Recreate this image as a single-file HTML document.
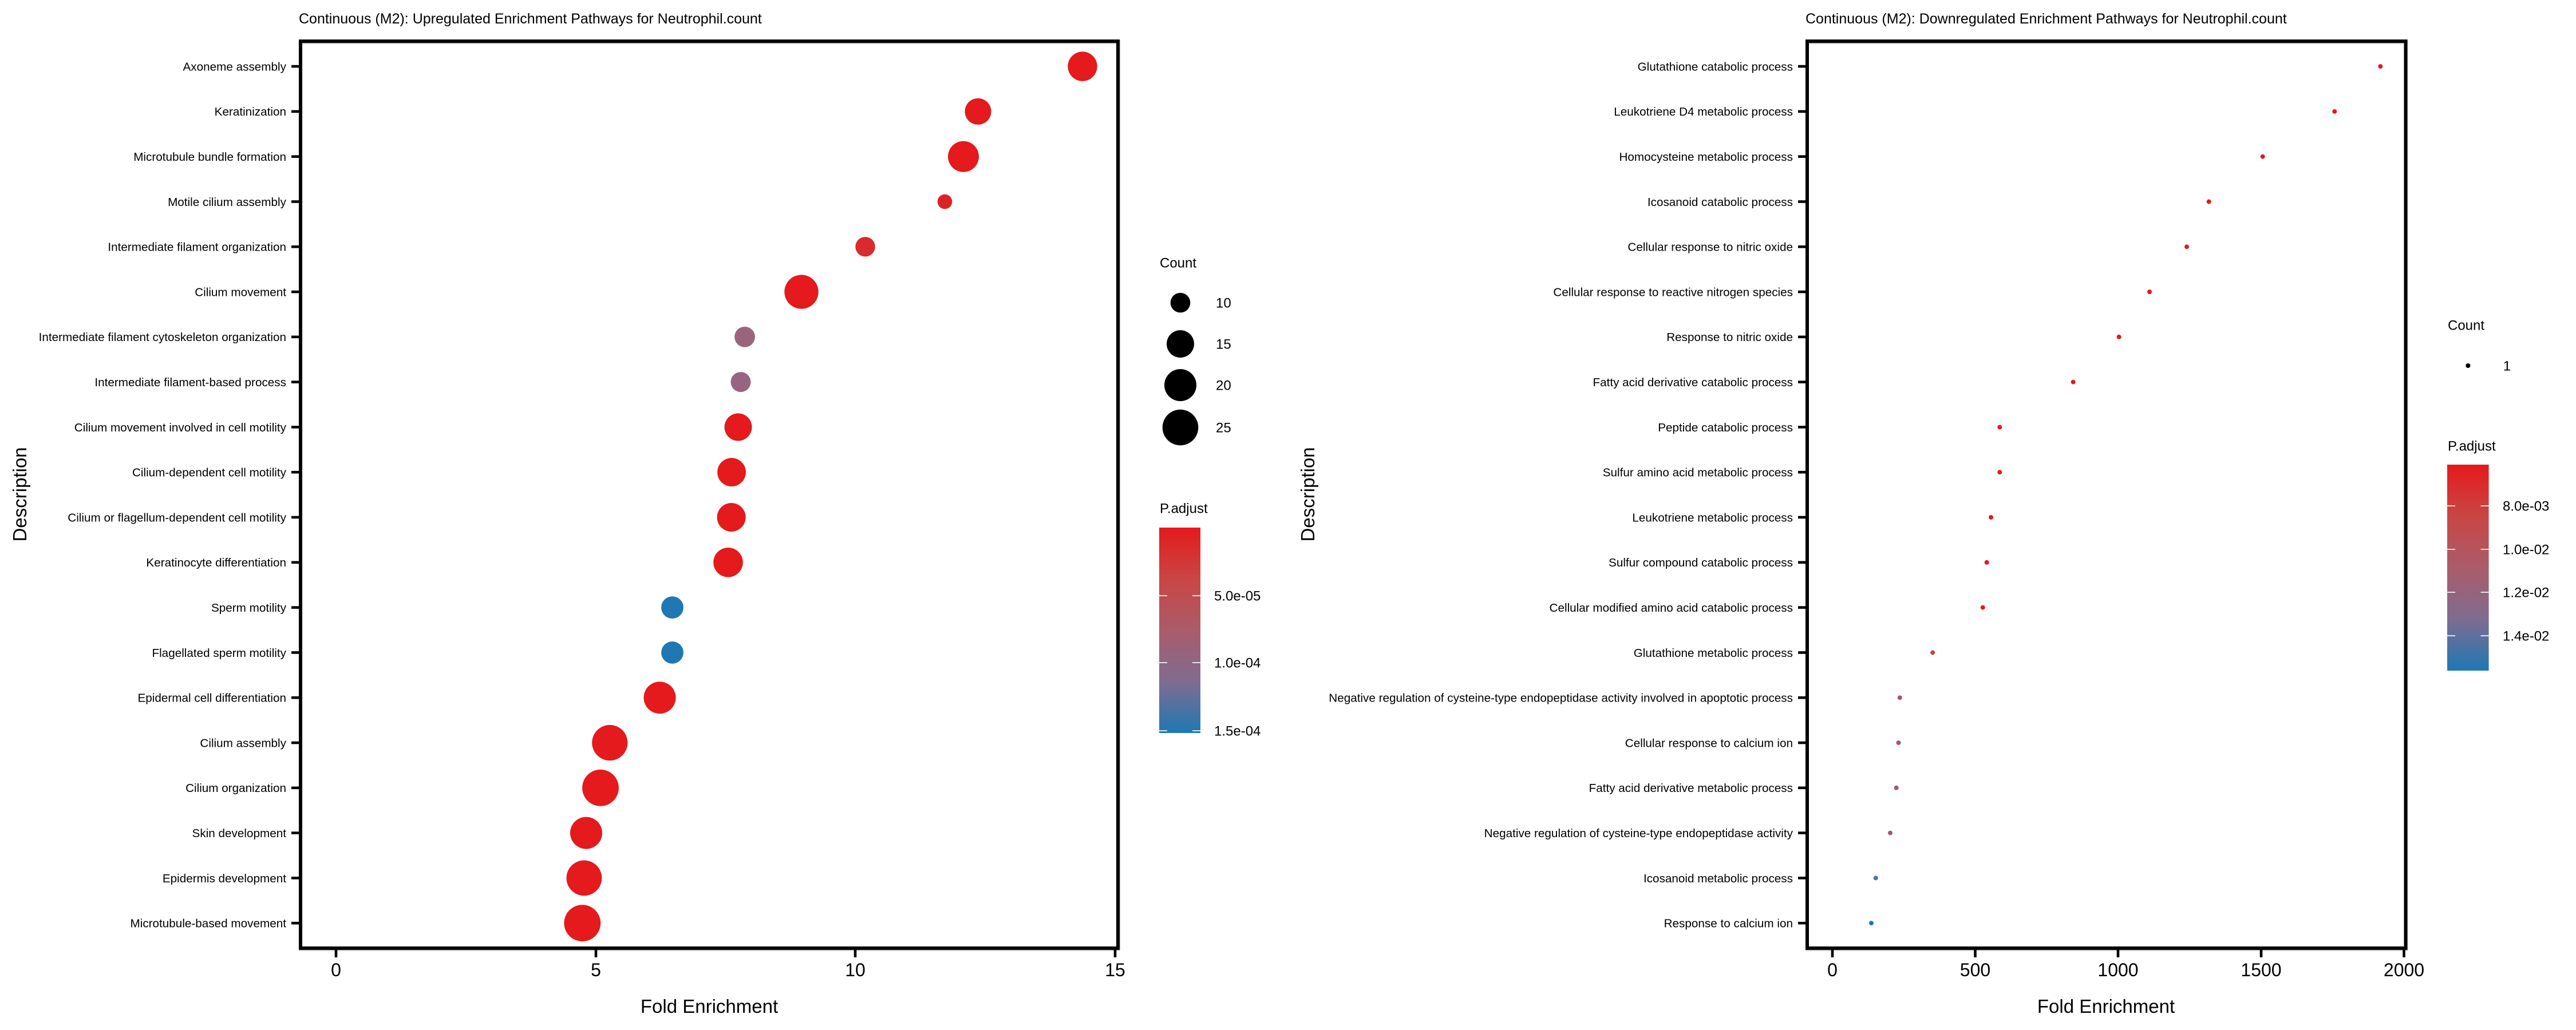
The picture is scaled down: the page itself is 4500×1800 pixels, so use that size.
<!DOCTYPE html>
<html>
<head>
<meta charset="utf-8">
<style>
html,body{margin:0;padding:0;background:#fff;}
svg{display:block;}
text{font-family:"Liberation Sans",Arial,Helvetica,sans-serif;fill:#000;}
.yl{font-size:20.7px;text-anchor:end;}
.xt{font-size:32px;text-anchor:middle;}
.at{font-size:33px;text-anchor:middle;}
.tt{font-size:25px;}
.lg{font-size:24px;}
</style>
</head>
<body>
<svg width="4500" height="1800" viewBox="0 0 4500 1800" xmlns="http://www.w3.org/2000/svg">
<defs>
<linearGradient id="pg" x1="0" y1="0" x2="0" y2="1">
<stop offset="0" stop-color="#E41A1C"/>
<stop offset="0.25" stop-color="#C94645"/>
<stop offset="0.5" stop-color="#AA5C6A"/>
<stop offset="0.75" stop-color="#7F6C90"/>
<stop offset="1" stop-color="#1F78B4"/>
</linearGradient>
</defs>
<rect x="0" y="0" width="4500" height="1800" fill="#fff"/>

<!-- ================= LEFT PANEL ================= -->
<text class="tt" x="522" y="41">Continuous (M2): Upregulated Enrichment Pathways for Neutrophil.count</text>

<!-- points -->
<g>
<circle cx="1891" cy="116" r="25.7" fill="#E41A1C"/>
<circle cx="1708.5" cy="194.8" r="23" fill="#E41A1C"/>
<circle cx="1683" cy="273.6" r="27" fill="#E41A1C"/>
<circle cx="1650.5" cy="352.4" r="12.8" fill="#DD2226"/>
<circle cx="1511.5" cy="431.2" r="17.2" fill="#D92A2D"/>
<circle cx="1400" cy="510" r="29.7" fill="#E41A1C"/>
<circle cx="1301" cy="588.8" r="17.9" fill="#9B647D"/>
<circle cx="1294" cy="667.6" r="17.5" fill="#976581"/>
<circle cx="1289.5" cy="746.4" r="24" fill="#E41A1C"/>
<circle cx="1278" cy="825.2" r="24.9" fill="#E41A1C"/>
<circle cx="1277.6" cy="904" r="25" fill="#E41A1C"/>
<circle cx="1272" cy="982.8" r="25.8" fill="#E41A1C"/>
<circle cx="1174.5" cy="1061.6" r="19.4" fill="#1F78B4"/>
<circle cx="1174.5" cy="1140.4" r="19.4" fill="#1F78B4"/>
<circle cx="1152.5" cy="1219.2" r="28" fill="#E41A1C"/>
<circle cx="1065.3" cy="1298" r="31.1" fill="#E41A1C"/>
<circle cx="1049" cy="1376.8" r="31.9" fill="#E41A1C"/>
<circle cx="1024" cy="1455.6" r="28" fill="#E41A1C"/>
<circle cx="1020.4" cy="1534.4" r="30.9" fill="#E41A1C"/>
<circle cx="1017.3" cy="1613.2" r="31.9" fill="#E41A1C"/>
</g>

<!-- border -->
<rect x="525" y="72" width="1428" height="1585" fill="none" stroke="#000" stroke-width="6"/>
<line x1="528" y1="76" x2="1950" y2="76" stroke="#aaa" stroke-width="1.2"/>
<line x1="522" y1="1661" x2="1956" y2="1661" stroke="#aaa" stroke-width="1.2"/>

<!-- y ticks & labels -->
<g stroke="#000" stroke-width="4.6">
<line x1="509" y1="116" x2="523" y2="116"/>
<line x1="509" y1="194.8" x2="523" y2="194.8"/>
<line x1="509" y1="273.6" x2="523" y2="273.6"/>
<line x1="509" y1="352.4" x2="523" y2="352.4"/>
<line x1="509" y1="431.2" x2="523" y2="431.2"/>
<line x1="509" y1="510" x2="523" y2="510"/>
<line x1="509" y1="588.8" x2="523" y2="588.8"/>
<line x1="509" y1="667.6" x2="523" y2="667.6"/>
<line x1="509" y1="746.4" x2="523" y2="746.4"/>
<line x1="509" y1="825.2" x2="523" y2="825.2"/>
<line x1="509" y1="904" x2="523" y2="904"/>
<line x1="509" y1="982.8" x2="523" y2="982.8"/>
<line x1="509" y1="1061.6" x2="523" y2="1061.6"/>
<line x1="509" y1="1140.4" x2="523" y2="1140.4"/>
<line x1="509" y1="1219.2" x2="523" y2="1219.2"/>
<line x1="509" y1="1298" x2="523" y2="1298"/>
<line x1="509" y1="1376.8" x2="523" y2="1376.8"/>
<line x1="509" y1="1455.6" x2="523" y2="1455.6"/>
<line x1="509" y1="1534.4" x2="523" y2="1534.4"/>
<line x1="509" y1="1613.2" x2="523" y2="1613.2"/>
</g>
<g class="yl">
<text class="yl" x="500" y="123.4">Axoneme assembly</text>
<text class="yl" x="500" y="202.2">Keratinization</text>
<text class="yl" x="500" y="281">Microtubule bundle formation</text>
<text class="yl" x="500" y="359.8">Motile cilium assembly</text>
<text class="yl" x="500" y="438.6">Intermediate filament organization</text>
<text class="yl" x="500" y="517.4">Cilium movement</text>
<text class="yl" x="500" y="596.2">Intermediate filament cytoskeleton organization</text>
<text class="yl" x="500" y="675">Intermediate filament-based process</text>
<text class="yl" x="500" y="753.8">Cilium movement involved in cell motility</text>
<text class="yl" x="500" y="832.6">Cilium-dependent cell motility</text>
<text class="yl" x="500" y="911.4">Cilium or flagellum-dependent cell motility</text>
<text class="yl" x="500" y="990.2">Keratinocyte differentiation</text>
<text class="yl" x="500" y="1069">Sperm motility</text>
<text class="yl" x="500" y="1147.8">Flagellated sperm motility</text>
<text class="yl" x="500" y="1226.6">Epidermal cell differentiation</text>
<text class="yl" x="500" y="1305.4">Cilium assembly</text>
<text class="yl" x="500" y="1384.2">Cilium organization</text>
<text class="yl" x="500" y="1463">Skin development</text>
<text class="yl" x="500" y="1541.8">Epidermis development</text>
<text class="yl" x="500" y="1620.6">Microtubule-based movement</text>
</g>

<!-- x ticks -->
<g stroke="#000" stroke-width="4.6">
<line x1="587" y1="1659" x2="587" y2="1673"/>
<line x1="1041" y1="1659" x2="1041" y2="1673"/>
<line x1="1494" y1="1659" x2="1494" y2="1673"/>
<line x1="1948" y1="1659" x2="1948" y2="1673"/>
</g>
<text class="xt" x="587" y="1706">0</text>
<text class="xt" x="1041" y="1706">5</text>
<text class="xt" x="1494" y="1706">10</text>
<text class="xt" x="1948" y="1706">15</text>
<text class="at" x="1239" y="1770">Fold Enrichment</text>
<text class="at" transform="translate(46,864) rotate(-90)" x="0" y="0">Description</text>

<!-- left legend -->
<text class="lg" x="2026" y="467.6">Count</text>
<circle cx="2062" cy="529" r="17.3" fill="#000"/>
<circle cx="2062" cy="601" r="24" fill="#000"/>
<circle cx="2062" cy="673" r="28" fill="#000"/>
<circle cx="2062" cy="747" r="31.3" fill="#000"/>
<text class="lg" x="2124" y="537.6">10</text>
<text class="lg" x="2124" y="609.6">15</text>
<text class="lg" x="2124" y="681.6">20</text>
<text class="lg" x="2124" y="755.6">25</text>
<text class="lg" x="2026" y="896.6">P.adjust</text>
<rect x="2025" y="922" width="72" height="359" fill="url(#pg)"/>
<g stroke="#fff" stroke-width="1.6">
<line x1="2025" y1="1041" x2="2039" y2="1041"/><line x1="2083" y1="1041" x2="2097" y2="1041"/>
<line x1="2025" y1="1158" x2="2039" y2="1158"/><line x1="2083" y1="1158" x2="2097" y2="1158"/>
<line x1="2025" y1="1277" x2="2039" y2="1277"/><line x1="2083" y1="1277" x2="2097" y2="1277"/>
</g>
<text class="lg" x="2121" y="1049.6">5.0e-05</text>
<text class="lg" x="2121" y="1166.6">1.0e-04</text>
<text class="lg" x="2121" y="1285.6">1.5e-04</text>

<!-- ================= RIGHT PANEL ================= -->
<text class="tt" x="3154" y="41">Continuous (M2): Downregulated Enrichment Pathways for Neutrophil.count</text>

<g>
<circle cx="4158.3" cy="116" r="4" fill="#E41A1C"/>
<circle cx="4078.3" cy="194.8" r="4" fill="#E41A1C"/>
<circle cx="3952.7" cy="273.6" r="4" fill="#E41A1C"/>
<circle cx="3858.7" cy="352.4" r="4" fill="#E41A1C"/>
<circle cx="3820" cy="431.2" r="4" fill="#E41A1C"/>
<circle cx="3755" cy="510" r="4" fill="#E41A1C"/>
<circle cx="3701.6" cy="588.8" r="4" fill="#E41A1C"/>
<circle cx="3621.6" cy="667.6" r="4" fill="#E41A1C"/>
<circle cx="3493.3" cy="746.4" r="4" fill="#E41A1C"/>
<circle cx="3493.3" cy="825.2" r="4" fill="#E41A1C"/>
<circle cx="3478" cy="904" r="4" fill="#E41A1C"/>
<circle cx="3470.7" cy="982.8" r="4" fill="#E41A1C"/>
<circle cx="3463.8" cy="1061.6" r="4" fill="#E41A1C"/>
<circle cx="3376.2" cy="1140.4" r="4" fill="#CC3D42"/>
<circle cx="3318.8" cy="1219.2" r="4" fill="#AA556A"/>
<circle cx="3316.5" cy="1298" r="4" fill="#A8566B"/>
<circle cx="3312.7" cy="1376.8" r="4" fill="#A5576D"/>
<circle cx="3302" cy="1455.6" r="4" fill="#A0596F"/>
<circle cx="3276.7" cy="1534.4" r="4" fill="#4A74AE"/>
<circle cx="3269" cy="1613.2" r="4" fill="#1F78B4"/>
</g>

<rect x="3157" y="72" width="1045.5" height="1585" fill="none" stroke="#000" stroke-width="6"/>
<line x1="3160" y1="76" x2="4199" y2="76" stroke="#aaa" stroke-width="1.2"/>
<line x1="3154" y1="1661" x2="4206" y2="1661" stroke="#aaa" stroke-width="1.2"/>
<line x1="4206" y1="69" x2="4206" y2="1661" stroke="#bbb" stroke-width="1.2"/>
<line x1="1956.5" y1="69" x2="1956.5" y2="1661" stroke="#bbb" stroke-width="1.2"/>

<g stroke="#000" stroke-width="4.6">
<line x1="3141" y1="116" x2="3155" y2="116"/>
<line x1="3141" y1="194.8" x2="3155" y2="194.8"/>
<line x1="3141" y1="273.6" x2="3155" y2="273.6"/>
<line x1="3141" y1="352.4" x2="3155" y2="352.4"/>
<line x1="3141" y1="431.2" x2="3155" y2="431.2"/>
<line x1="3141" y1="510" x2="3155" y2="510"/>
<line x1="3141" y1="588.8" x2="3155" y2="588.8"/>
<line x1="3141" y1="667.6" x2="3155" y2="667.6"/>
<line x1="3141" y1="746.4" x2="3155" y2="746.4"/>
<line x1="3141" y1="825.2" x2="3155" y2="825.2"/>
<line x1="3141" y1="904" x2="3155" y2="904"/>
<line x1="3141" y1="982.8" x2="3155" y2="982.8"/>
<line x1="3141" y1="1061.6" x2="3155" y2="1061.6"/>
<line x1="3141" y1="1140.4" x2="3155" y2="1140.4"/>
<line x1="3141" y1="1219.2" x2="3155" y2="1219.2"/>
<line x1="3141" y1="1298" x2="3155" y2="1298"/>
<line x1="3141" y1="1376.8" x2="3155" y2="1376.8"/>
<line x1="3141" y1="1455.6" x2="3155" y2="1455.6"/>
<line x1="3141" y1="1534.4" x2="3155" y2="1534.4"/>
<line x1="3141" y1="1613.2" x2="3155" y2="1613.2"/>
</g>
<text class="yl" x="3132" y="123.4">Glutathione catabolic process</text>
<text class="yl" x="3132" y="202.2">Leukotriene D4 metabolic process</text>
<text class="yl" x="3132" y="281">Homocysteine metabolic process</text>
<text class="yl" x="3132" y="359.8">Icosanoid catabolic process</text>
<text class="yl" x="3132" y="438.6">Cellular response to nitric oxide</text>
<text class="yl" x="3132" y="517.4">Cellular response to reactive nitrogen species</text>
<text class="yl" x="3132" y="596.2">Response to nitric oxide</text>
<text class="yl" x="3132" y="675">Fatty acid derivative catabolic process</text>
<text class="yl" x="3132" y="753.8">Peptide catabolic process</text>
<text class="yl" x="3132" y="832.6">Sulfur amino acid metabolic process</text>
<text class="yl" x="3132" y="911.4">Leukotriene metabolic process</text>
<text class="yl" x="3132" y="990.2">Sulfur compound catabolic process</text>
<text class="yl" x="3132" y="1069">Cellular modified amino acid catabolic process</text>
<text class="yl" x="3132" y="1147.8">Glutathione metabolic process</text>
<text class="yl" x="3132" y="1226.6">Negative regulation of cysteine-type endopeptidase activity involved in apoptotic process</text>
<text class="yl" x="3132" y="1305.4">Cellular response to calcium ion</text>
<text class="yl" x="3132" y="1384.2">Fatty acid derivative metabolic process</text>
<text class="yl" x="3132" y="1463">Negative regulation of cysteine-type endopeptidase activity</text>
<text class="yl" x="3132" y="1541.8">Icosanoid metabolic process</text>
<text class="yl" x="3132" y="1620.6">Response to calcium ion</text>

<g stroke="#000" stroke-width="4.6">
<line x1="3201" y1="1659" x2="3201" y2="1673"/>
<line x1="3450.5" y1="1659" x2="3450.5" y2="1673"/>
<line x1="3700" y1="1659" x2="3700" y2="1673"/>
<line x1="3950" y1="1659" x2="3950" y2="1673"/>
<line x1="4199.5" y1="1659" x2="4199.5" y2="1673"/>
</g>
<text class="xt" x="3201" y="1706">0</text>
<text class="xt" x="3450.5" y="1706">500</text>
<text class="xt" x="3700" y="1706">1000</text>
<text class="xt" x="3950" y="1706">1500</text>
<text class="xt" x="4199.5" y="1706">2000</text>
<text class="at" x="3679" y="1770">Fold Enrichment</text>
<text class="at" transform="translate(2296,864) rotate(-90)" x="0" y="0">Description</text>

<!-- right legend -->
<text class="lg" x="4276" y="576.6">Count</text>
<circle cx="4311.4" cy="639" r="4" fill="#000"/>
<text class="lg" x="4372.7" y="647.6">1</text>
<text class="lg" x="4276" y="787.6">P.adjust</text>
<rect x="4275" y="812" width="72.6" height="360" fill="url(#pg)"/>
<g stroke="#fff" stroke-width="1.6">
<line x1="4275" y1="884" x2="4289" y2="884"/><line x1="4333.6" y1="884" x2="4347.6" y2="884"/>
<line x1="4275" y1="960" x2="4289" y2="960"/><line x1="4333.6" y1="960" x2="4347.6" y2="960"/>
<line x1="4275" y1="1035" x2="4289" y2="1035"/><line x1="4333.6" y1="1035" x2="4347.6" y2="1035"/>
<line x1="4275" y1="1111" x2="4289" y2="1111"/><line x1="4333.6" y1="1111" x2="4347.6" y2="1111"/>
</g>
<text class="lg" x="4372" y="892.6">8.0e-03</text>
<text class="lg" x="4372" y="968.6">1.0e-02</text>
<text class="lg" x="4372" y="1043.6">1.2e-02</text>
<text class="lg" x="4372" y="1119.6">1.4e-02</text>
</svg>
</body>
</html>
